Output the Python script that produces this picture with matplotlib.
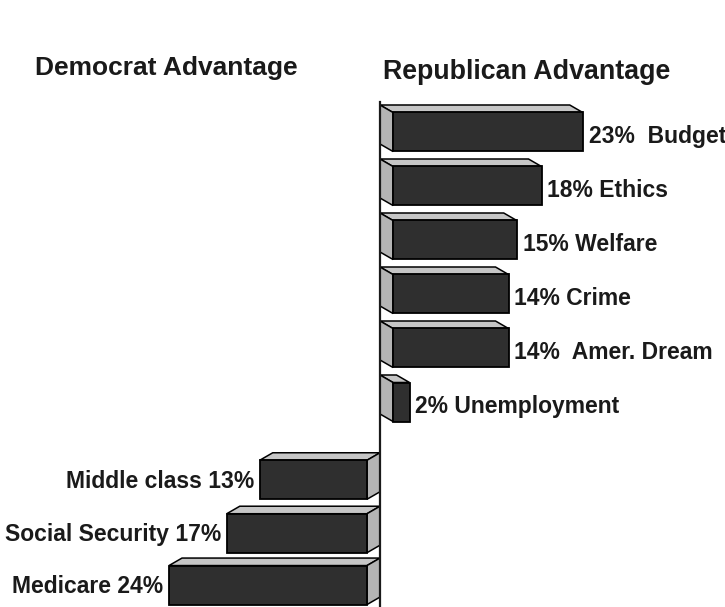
import matplotlib.pyplot as plt
from matplotlib.patches import Polygon

# Republican advantage issues (percent), top to bottom
rep_issues = ['Budget', 'Ethics', 'Welfare', 'Crime', 'Amer. Dream', 'Unemployment']
rep_values = [23, 18, 15, 14, 14, 2]
rep_gap = ['  ', ' ', ' ', ' ', '  ', ' ']

# Democrat advantage issues (percent), top to bottom
dem_issues = ['Middle class', 'Social Security', 'Medicare']
dem_values = [13, 17, 24]

px_per_pct = 8.25
row_px = 54.0
W, H = 725, 607
x0_px = 380      # the central axis
y0_px = 132      # centre of the first bar

front_col = '#2f2f2f'
top_col = '#c6c6c6'
side_col = '#b4b4b4'

bar_h = 39 / row_px     # front face height in rows
dx = 13 / px_per_pct    # depth, in percent
dy = 7.5 / row_px       # depth, in rows

plt.rcParams['font.family'] = ['Liberation Sans', 'DejaVu Sans']
plt.rcParams['font.weight'] = 'bold'

fig = plt.figure(figsize=(W / 100, H / 100), dpi=100)
ax = fig.add_axes([0, 0, 1, 1])
ax.set_xlim(-x0_px / px_per_pct, (W - x0_px) / px_per_pct)
ax.set_ylim((H - y0_px) / row_px, -y0_px / row_px)
ax.axis('off')


def draw_bar(v, c, side):
    # side = +1 for bars to the right, -1 for bars to the left
    top = c - bar_h / 2
    bot = c + bar_h / 2
    s = side
    # front face
    left = dx if s > 0 else -dx - v
    ax.barh(c, v, left=left, height=bar_h, color=front_col,
            edgecolor='black', linewidth=1.3, zorder=3)
    # top face
    ax.add_patch(Polygon([(s * dx, top), (s * (dx + v), top),
                          (s * v, top - dy), (0, top - dy)],
                         closed=True, facecolor=top_col, edgecolor='black',
                         linewidth=1.1, zorder=2))
    # side face next to the axis
    ax.add_patch(Polygon([(0, top - dy), (s * dx, top), (s * dx, bot),
                          (0, bot - dy)],
                         closed=True, facecolor=side_col, edgecolor='black',
                         linewidth=1.1, zorder=2))


rep_rows = list(range(len(rep_values)))
for r, v, name, gap in zip(rep_rows, rep_values, rep_issues, rep_gap):
    draw_bar(v, r, 1)
    ax.text(dx + v + 0.7, r + 0.09, f'{v}%{gap}{name}', ha='left', va='center',
            fontsize=16.5, fontweight='bold', color='#1a1a1a')

dem_rows = [6.44, 7.43, 8.39]
for r, v, name in zip(dem_rows, dem_values, dem_issues):
    draw_bar(v, r, -1)
    ax.text(-dx - v - 0.7, r + 0.03, f'{name} {v}%', ha='right', va='center',
            fontsize=16.5, fontweight='bold', color='#1a1a1a')

# central axis line
ax.plot([0, 0], [(102 - y0_px) / row_px, (H - y0_px) / row_px],
        color='#1a1a1a', linewidth=1.6, zorder=4)

fig.text(35 / W, 1 - 68 / H, 'Democrat Advantage', ha='left', va='center',
         fontsize=19, fontweight='bold', color='#1a1a1a')
fig.text(383 / W, 1 - 72 / H, 'Republican Advantage', ha='left', va='center',
         fontsize=19.3, fontweight='bold', color='#1a1a1a')

fig.savefig('out.png', dpi=100)
